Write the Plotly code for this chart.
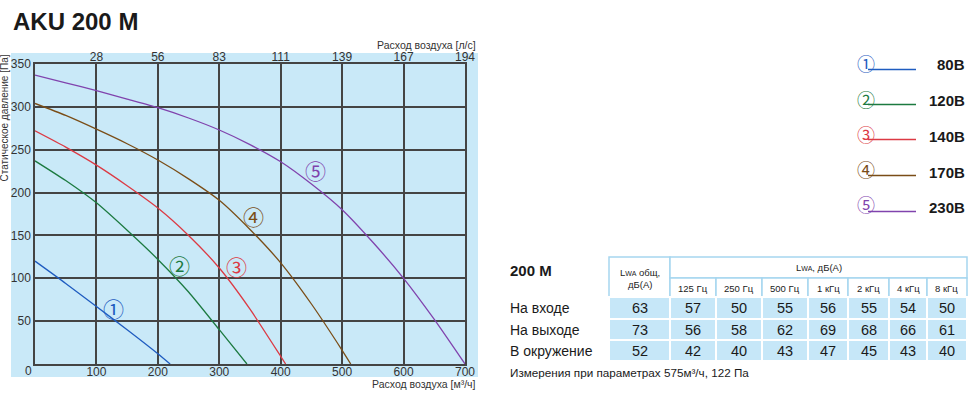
import plotly.graph_objects as go

# ---------------- data ----------------
flow_1 = [0, 50, 100, 150, 200, 220]
pres_1 = [120, 94, 67, 40, 12, 0]

flow_2 = [0, 50, 100, 150, 200, 250, 300, 345]
pres_2 = [237, 214, 188, 156, 122, 84, 40, 0]

flow_3 = [0, 50, 100, 150, 200, 250, 300, 350, 400, 408]
pres_3 = [272, 253, 232, 208, 182, 150, 112, 64, 9, 0]

flow_4 = [0, 50, 100, 150, 200, 250, 300, 350, 400, 450, 500, 514]
pres_4 = [304, 290, 274, 257, 238, 216, 191, 157, 118, 70, 16, 0]

flow_5 = [0, 50, 100, 150, 200, 250, 300, 350, 400, 450, 500, 550, 600, 650, 700]
pres_5 = [337, 328, 319, 309, 299, 287, 273, 256, 236, 210, 180, 142, 100, 52, 0]

curve_marks = ["①", "②", "③", "④", "⑤"]
curve_voltages = ["80В", "120В", "140В", "170В", "230В"]
mark_flow = [127, 235, 328, 356, 457]
mark_pres = [65, 116, 114, 173, 226]

x_ticks_m3h = [100, 200, 300, 400, 500, 600, 700]
x_ticks_ls = ["28", "56", "83", "111", "139", "167", "194"]
y_ticks = [50, 100, 150, 200, 250, 300, 350]

row_names = ["На входе", "На выходе", "В окружение"]
total_lwa = [63, 73, 52]
band_names = ["125 Гц", "250 Гц", "500 Гц", "1 кГц", "2 кГц", "4 кГц", "8 кГц"]
lwa_inlet = [57, 50, 55, 56, 55, 54, 50]
lwa_outlet = [56, 58, 62, 69, 68, 66, 61]
lwa_ambient = [42, 40, 43, 47, 45, 43, 40]

# ---------------- styling ----------------
W, H = 972, 393
PL, PR, PT, PB = 35, 465, 64, 364          # plot area in pixels
FONT = "Liberation Sans, Arial, sans-serif"
CJK = "Noto Sans CJK JP, DejaVu Sans, sans-serif"
BG_BLUE = "#c9e9f8"
GRID = "#444444"
colors = ["#1f5cc0", "#1c7a40", "#dc3a44", "#7a4d17", "#8043ad"]


def px(x):
    return (x - PL) / (PR - PL)


def py(y):
    return (PB - y) / (PB - PT)


fig = go.Figure()

curves = [(flow_1, pres_1), (flow_2, pres_2), (flow_3, pres_3),
          (flow_4, pres_4), (flow_5, pres_5)]
for (fx, fy), c in zip(curves, colors):
    fig.add_trace(go.Scatter(x=fx, y=fy, mode="lines",
                             line=dict(color=c, width=1.3, shape="spline", smoothing=0.6),
                             hoverinfo="skip", showlegend=False))

# invisible trace that carries the secondary (l/s) axis on top
fig.add_trace(go.Scatter(x=[0, 700], y=[0, 0], xaxis="x2", mode="lines",
                         line=dict(width=0), opacity=0, hoverinfo="skip",
                         showlegend=False))

shapes = []
annotations = []

# light-blue panel behind the chart and its tick labels
shapes.append(dict(type="rect", xref="paper", yref="paper",
                   x0=px(11), x1=px(478), y0=py(377), y1=py(53),
                   fillcolor=BG_BLUE, line=dict(width=0), layer="below"))

# circled curve numbers inside the chart
for m, fx, fy, c in zip(curve_marks, mark_flow, mark_pres, colors):
    annotations.append(dict(x=fx, y=fy, xref="x", yref="y", text=m, showarrow=False,
                            xanchor="center", yanchor="middle",
                            font=dict(family=CJK, size=21, color=c)))

# title
annotations.append(dict(x=px(11), y=py(21), xref="paper", yref="paper", text="<b>AKU 200 M</b>",
                        showarrow=False, xanchor="left", yanchor="middle",
                        font=dict(family=FONT, size=24, color="#1a1a1a")))

# axis titles
annotations.append(dict(x=px(478), y=py(45), xref="paper", yref="paper",
                        text="Расход воздуха [л/с]", showarrow=False,
                        xanchor="right", yanchor="middle",
                        font=dict(family=FONT, size=10.5, color="#333")))
annotations.append(dict(x=px(478), y=py(384), xref="paper", yref="paper",
                        text="Расход воздуха [м³/ч]", showarrow=False,
                        xanchor="right", yanchor="middle",
                        font=dict(family=FONT, size=10.5, color="#333")))
annotations.append(dict(x=px(4), y=py(53), xref="paper", yref="paper",
                        text="Статическое давление [Па]", showarrow=False, textangle=-90,
                        xanchor="center", yanchor="top",
                        font=dict(family=FONT, size=10, color="#333")))
annotations.append(dict(x=px(28), y=py(371), xref="paper", yref="paper", text="0",
                        showarrow=False, xanchor="center", yanchor="middle",
                        font=dict(family=FONT, size=12, color="#333")))

# legend on the right
legend_circle_y = [63, 99, 134, 169, 204]
legend_line_y = [69.5, 104.5, 139.5, 175.5, 211.5]
legend_text_y = [65, 101, 136, 172, 207]
for i, c in enumerate(colors):
    annotations.append(dict(x=px(866), y=py(legend_circle_y[i]), xref="paper", yref="paper",
                            text=curve_marks[i], showarrow=False,
                            xanchor="center", yanchor="middle",
                            font=dict(family=CJK, size=18, color=c)))
    shapes.append(dict(type="line", xref="paper", yref="paper",
                       x0=px(868), x1=px(916), y0=py(legend_line_y[i]), y1=py(legend_line_y[i]),
                       line=dict(color=c, width=1.3)))
    annotations.append(dict(x=px(967), y=py(legend_text_y[i]), xref="paper", yref="paper",
                            text="<b>" + curve_voltages[i] + "</b>", showarrow=False,
                            xanchor="right", yanchor="middle",
                            font=dict(family=FONT, size=15, color="#1a1a1a")))

# ---------------- noise table ----------------
COL_EDGES = [609, 670, 716, 762, 808, 848, 889, 927, 967]
HEAD_Y = [257, 278, 297]
ROW_Y = [297, 319, 340, 361]
HEAD_LINE = "#a6d6ef"
CELL_BLUE = "#c6e7f8"


def rect(x0, x1, y0, y1, fill, line_color, lw):
    shapes.append(dict(type="rect", xref="paper", yref="paper",
                       x0=px(x0), x1=px(x1), y0=py(y1), y1=py(y0),
                       fillcolor=fill, line=dict(color=line_color, width=lw)))


def text(x, y, s, size, anchor="center", color="#222", bold=False):
    if bold:
        s = "<b>" + s + "</b>"
    annotations.append(dict(x=px(x), y=py(y), xref="paper", yref="paper", text=s,
                            showarrow=False, xanchor=anchor, yanchor="middle",
                            font=dict(family=FONT, size=size, color=color)))


# header cells
rect(COL_EDGES[0], COL_EDGES[1], HEAD_Y[0], HEAD_Y[2], "white", HEAD_LINE, 1.5)
rect(COL_EDGES[1], COL_EDGES[-1], HEAD_Y[0], HEAD_Y[1], "white", HEAD_LINE, 1.5)
for j in range(len(band_names)):
    rect(COL_EDGES[j + 1], COL_EDGES[j + 2], HEAD_Y[1], HEAD_Y[2], "white", HEAD_LINE, 1.5)
    text((COL_EDGES[j + 1] + COL_EDGES[j + 2]) / 2, 288.5, band_names[j], 9.5)

text((COL_EDGES[0] + COL_EDGES[1]) / 2, 272.5,
     "L<span style='font-size:7px'>WA</span> общ,", 9.5)
text((COL_EDGES[0] + COL_EDGES[1]) / 2, 284.5, "дБ(A)", 9.5)
text((COL_EDGES[1] + COL_EDGES[-1]) / 2, 267.5,
     "L<span style='font-size:7px'>WA</span>, дБ(A)", 9.5)

# data rows
table_rows = [lwa_inlet, lwa_outlet, lwa_ambient]
for i, name in enumerate(row_names):
    y0, y1 = ROW_Y[i], ROW_Y[i + 1]
    yc = (y0 + y1) / 2
    text(508, yc, name, 14, anchor="left", color="#1a1a1a")
    values = [total_lwa[i]] + table_rows[i]
    for j, v in enumerate(values):
        rect(COL_EDGES[j], COL_EDGES[j + 1], y0, y1, CELL_BLUE, "white", 2)
        text((COL_EDGES[j] + COL_EDGES[j + 1]) / 2, yc, str(v), 14.5, color="#1a1a1a")

text(508, 270, "200 M", 15, anchor="left", color="#1a1a1a", bold=True)
text(508, 372, "Измерения при параметрах 575м³/ч, 122 Па", 11.7, anchor="left", color="#1a1a1a")

axis_common = dict(showgrid=True, gridcolor=GRID, gridwidth=1.5, zeroline=False,
                   showline=True, linecolor=GRID, linewidth=1.5, ticks="",
                   tickfont=dict(family=FONT, size=12, color="#333"), fixedrange=True)

fig.update_layout(
    width=W, height=H,
    margin=dict(l=PL, r=W - PR, t=PT, b=H - PB, pad=0),
    paper_bgcolor="white", plot_bgcolor=BG_BLUE,
    xaxis=dict(range=[0, 700], tickmode="array", tickvals=x_ticks_m3h, mirror=True,
               ticklabelstandoff=-4, **axis_common),
    xaxis2=dict(range=[0, 700], overlaying="x", side="top", tickmode="array",
                tickvals=x_ticks_m3h, ticktext=x_ticks_ls, showgrid=False, zeroline=False,
                showline=False, ticks="", tickfont=dict(family=FONT, size=12, color="#333"),
                fixedrange=True),
    yaxis=dict(range=[0, 350], tickmode="array", tickvals=y_ticks, mirror=True,
               **axis_common),
    shapes=shapes,
    annotations=annotations,
    showlegend=False,
)

fig.write_html("out.html")
